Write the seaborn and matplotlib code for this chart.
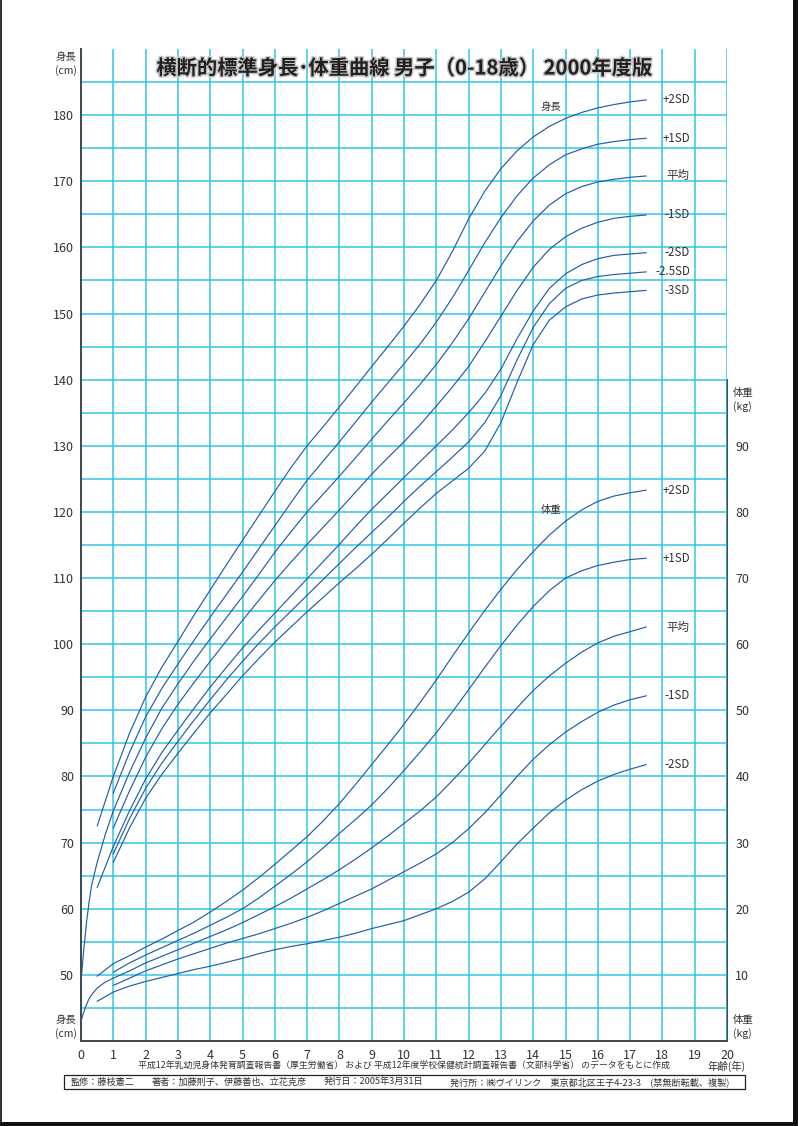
import numpy as np
import pandas as pd
import matplotlib
matplotlib.use("Agg")
import matplotlib.pyplot as plt
import matplotlib.patheffects as pe
from matplotlib.patches import Rectangle
import seaborn as sns

# ---------------- data ----------------
AGES_HALF = [0.5, 1.0, 1.5, 2.0, 2.5, 3.0, 3.5, 4.0, 4.5, 5.0, 5.5, 6.0, 6.5, 7.0, 7.5,
             8.0, 8.5, 9.0, 9.5, 10.0, 10.5, 11.0, 11.5, 12.0, 12.5, 13.0, 13.5, 14.0,
             14.5, 15.0, 15.5, 16.0, 16.5, 17.0, 17.5]
AGES_FROM1 = [1.0, 1.5, 2.0, 2.5, 3.0, 3.5, 4.0, 4.5, 5.0, 5.5, 6.0, 6.5, 7.0, 7.5,
              8.0, 8.5, 9.0, 9.5, 10.0, 10.5, 11.0, 11.5, 12.0, 12.5, 13.0, 13.5, 14.0,
              14.5, 15.0, 15.5, 16.0, 16.5, 17.0, 17.5]
AGES_INFANT = [0.0, 0.08, 0.17, 0.25, 0.33, 0.5, 0.75, 1.0, 1.5, 2.0, 2.5, 3.0, 3.5, 4.0,
               4.5, 5.0, 5.5, 6.0, 6.5, 7.0, 7.5, 8.0, 8.5, 9.0, 9.5, 10.0, 10.5, 11.0,
               11.5, 12.0, 12.5, 13.0, 13.5, 14.0, 14.5, 15.0, 15.5, 16.0, 16.5, 17.0, 17.5]

# height (cm)
H_P2 = [72.5, 80.0, 86.5, 92.0, 96.5, 100.4, 104.4, 108.2, 112.0, 115.7, 119.4, 123.1,
        126.7, 130.0, 132.9, 135.9, 138.9, 142.0, 145.0, 148.1, 151.4, 155.0, 159.4,
        164.3, 168.5, 171.9, 174.6, 176.7, 178.3, 179.5, 180.4, 181.1, 181.6, 182.0, 182.3]
H_P1 = [77.5, 83.6, 89.0, 93.3, 97.0, 100.6, 104.1, 107.5, 110.9, 114.4, 117.9, 121.4,
        124.8, 127.7, 130.6, 133.6, 136.6, 139.5, 142.4, 145.4, 148.7, 152.4, 156.5,
        160.7, 164.5, 167.8, 170.5, 172.5, 174.0, 174.9, 175.6, 176.0, 176.3, 176.5]
H_MEAN = [49.0, 53.5, 57.9, 61.0, 63.6, 67.0, 71.2,
          74.8, 80.6, 85.8, 90.3, 94.0, 97.5, 100.8, 104.0, 107.2, 110.5, 113.9, 117.0,
          120.0, 122.7, 125.4, 128.2, 131.0, 133.8, 136.5, 139.3, 142.3, 145.6, 149.2,
          153.2, 157.2, 160.9, 164.0, 166.4, 168.1, 169.2, 169.9, 170.3, 170.6, 170.8]
H_M1 = [72.2, 77.8, 82.9, 87.2, 90.9, 94.2, 97.4, 100.5, 103.6, 106.6, 109.6, 112.4,
        115.1, 117.7, 120.3, 123.0, 125.7, 128.2, 130.6, 133.2, 136.0, 138.9, 142.0,
        145.7, 149.6, 153.5, 157.0, 159.7, 161.6, 162.9, 163.8, 164.4, 164.7, 164.9]
H_M2 = [63.2, 69.4, 74.8, 79.6, 83.6, 87.0, 90.3, 93.5, 96.5, 99.4, 102.1, 104.7,
        107.3, 109.9, 112.5, 115.1, 117.8, 120.4, 122.8, 125.2, 127.6, 130.0, 132.4,
        135.0, 137.9, 141.6, 146.2, 150.4, 153.8, 156.0, 157.4, 158.3, 158.8, 159.0, 159.2]
H_M25 = [68.3, 73.6, 78.2, 82.0, 85.3, 88.5, 91.6, 94.6, 97.4, 100.1, 102.6, 105.0,
         107.4, 109.8, 112.2, 114.6, 116.9, 119.2, 121.6, 123.9, 126.1, 128.3, 130.6,
         133.5, 137.6, 143.0, 147.9, 151.5, 153.8, 155.0, 155.6, 155.9, 156.1, 156.3]
H_M3 = [67.0, 72.2, 76.7, 80.3, 83.5, 86.6, 89.6, 92.4, 95.2, 97.8, 100.3, 102.6,
        104.9, 107.1, 109.3, 111.4, 113.6, 115.9, 118.3, 120.6, 122.8, 124.7, 126.6,
        129.2, 133.5, 139.6, 145.3, 149.0, 151.0, 152.2, 152.8, 153.1, 153.3, 153.5]

# weight (kg)
W_P2 = [9.8, 11.7, 12.9, 14.2, 15.4, 16.7, 18.0, 19.5, 21.1, 22.8, 24.7, 26.7, 28.8,
        30.9, 33.3, 35.9, 38.8, 41.8, 44.8, 47.9, 51.2, 54.6, 58.2, 61.7, 65.1, 68.3,
        71.3, 74.0, 76.5, 78.6, 80.3, 81.6, 82.4, 82.9, 83.3]
W_P1 = [10.4, 11.8, 13.0, 14.1, 15.2, 16.3, 17.5, 18.7, 20.0, 21.6, 23.4, 25.2, 27.1,
        29.2, 31.4, 33.5, 35.7, 38.2, 40.9, 43.7, 46.6, 49.8, 53.1, 56.5, 59.8, 62.9,
        65.7, 68.1, 70.0, 71.1, 71.9, 72.4, 72.8, 73.0]
W_MEAN = [3.0, 4.3, 5.5, 6.4, 7.0, 8.0, 8.9,
          9.5, 10.6, 11.8, 12.8, 13.8, 14.8, 15.8, 16.8, 17.9, 19.1, 20.3, 21.6, 23.0,
          24.4, 25.9, 27.5, 29.2, 31.0, 32.9, 34.8, 36.9, 39.4, 42.0, 44.8, 47.6, 50.4,
          53.0, 55.2, 57.1, 58.8, 60.2, 61.2, 61.9, 62.6]
W_M1 = [8.4, 9.5, 10.6, 11.5, 12.4, 13.2, 14.0, 14.8, 15.5, 16.2, 17.0, 17.8, 18.7,
        19.7, 20.8, 21.9, 23.0, 24.3, 25.6, 26.9, 28.3, 30.0, 32.1, 34.5, 37.2, 40.0,
        42.6, 44.8, 46.7, 48.3, 49.7, 50.8, 51.6, 52.2]
W_M2 = [6.0, 7.4, 8.3, 9.0, 9.6, 10.2, 10.8, 11.3, 11.9, 12.5, 13.2, 13.8, 14.3, 14.7,
        15.2, 15.7, 16.3, 17.0, 17.6, 18.2, 19.1, 20.0, 21.1, 22.5, 24.5, 27.1, 29.8,
        32.2, 34.5, 36.4, 38.0, 39.3, 40.3, 41.1, 41.8]

H_LABELS = ["+2SD", "+1SD", "平均", "-1SD", "-2SD", "-2.5SD", "-3SD"]
W_LABELS = ["+2SD", "+1SD", "平均", "-1SD", "-2SD"]
X_TICKS = list(range(0, 21))
H_TICKS = list(range(50, 181, 10))
W_TICKS = list(range(10, 91, 10))

TITLE = "横断的標準身長･体重曲線 男子（0-18歳） 2000年度版"
SOURCE = ("平成12年乳幼児身体発育調査報告書（厚生労働省） および 平成12年度学校保健統計調査報告書"
          "（文部科学省） のデータをもとに作成")
FOOT = ["監修：藤枝憲二", "著者：加藤則子、伊藤善也、立花克彦", "発行日：2005年3月31日",
        "発行所：㈱ヴイリンク　東京都北区王子4-23-3　(禁無断転載、複製)"]

# weight is drawn on the same axes shifted by 40 (10 kg <-> 50 cm)
W_OFFSET = 40

# ---------------- style ----------------
sns.set_theme(style="white")
plt.rcParams['font.family'] = ['Noto Sans CJK JP', 'DejaVu Sans']
GRID = "#2cc2e4"
LINE = "#1f5ea8"
TXT = "#333333"
SPINE = "#3b4a50"

W, H = 798, 1126
fig = plt.figure(figsize=(W / 100, H / 100), dpi=100)
fx = lambda px: px / W
fy = lambda py: 1 - py / H

ax = fig.add_axes([fx(81), fy(1041), (727 - 81) / W, (1041 - 49) / H])
ax.set_xlim(0, 20)
ax.set_ylim(40, 190)

# build long table
rows = []
def add(name, ages, vals, offset=0):
    for a, v in zip(ages, vals):
        rows.append({"curve": name, "age": a, "value": v + offset})

h_series = [H_P2, H_P1, H_MEAN, H_M1, H_M2, H_M25, H_M3]
h_ages = [AGES_HALF, AGES_FROM1, AGES_INFANT, AGES_FROM1, AGES_HALF, AGES_FROM1, AGES_FROM1]
w_series = [W_P2, W_P1, W_MEAN, W_M1, W_M2]
w_ages = [AGES_HALF, AGES_FROM1, AGES_INFANT, AGES_FROM1, AGES_HALF]
for lab, a, v in zip(H_LABELS, h_ages, h_series):
    add("H" + lab, a, v)
for lab, a, v in zip(W_LABELS, w_ages, w_series):
    add("W" + lab, a, v, W_OFFSET)
df = pd.DataFrame(rows)

sns.lineplot(data=df, x="age", y="value", units="curve", estimator=None,
             color=LINE, lw=0.85, ax=ax, legend=False, zorder=3)

# grid
ax.set_xticks(X_TICKS)
ax.set_yticks(H_TICKS)
ax.set_yticks(np.arange(45, 190.01, 10), minor=True)
ax.grid(False)
ax.grid(which="both", color=GRID, lw=1.1, alpha=0.95)
ax.set_axisbelow(True)
ax.tick_params(which="both", length=0)
ax.tick_params(axis="x", pad=6, labelsize=9, labelcolor=TXT)
ax.tick_params(axis="y", pad=5, labelsize=9, labelcolor=TXT)
ax.set_xlabel("")
ax.set_ylabel("")

for s in ["top", "right"]:
    ax.spines[s].set_visible(False)
for s in ["left", "bottom"]:
    ax.spines[s].set_visible(True)
    ax.spines[s].set_color(SPINE)
    ax.spines[s].set_linewidth(1.4)
    ax.spines[s].set_zorder(5)

# weight axis on the right
sec = ax.secondary_yaxis("right", functions=(lambda h: h - W_OFFSET, lambda w: w + W_OFFSET))
sec.set_yticks(W_TICKS)
sec.tick_params(length=0, pad=6, labelsize=9, labelcolor=TXT)
sec.spines["right"].set_bounds(0, 100)
sec.spines["right"].set_color(SPINE)
sec.spines["right"].set_linewidth(1.4)

# curve labels
lab_x = 18.85
for lab, v in zip(H_LABELS, h_series):
    ax.text(lab_x, v[-1], lab, ha="right", va="center", fontsize=8.3, color=TXT, zorder=6)
for lab, v in zip(W_LABELS, w_series):
    ax.text(lab_x, v[-1] + W_OFFSET, lab, ha="right", va="center", fontsize=8.3, color=TXT, zorder=6)
ax.text(14.55, 181.2, "身長", ha="center", va="center", fontsize=7.5, color=TXT)
ax.text(14.55, 120.3, "体重", ha="center", va="center", fontsize=7.5, color=TXT)

# title
fig.text(fx(404), fy(68), TITLE, ha="center", va="center", fontsize=14.6, fontweight="bold",
         color="#231f20",
         path_effects=[pe.withStroke(linewidth=2.2, foreground="#c8c8c8")])

# axis unit labels
fig.text(fx(66), fy(64), "身長\n(cm)", ha="center", va="center", fontsize=7.5,
         color=TXT, linespacing=1.3)
fig.text(fx(66), fy(1027), "身長\n(cm)", ha="center", va="center", fontsize=7.5,
         color=TXT, linespacing=1.3)
fig.text(fx(733), fy(400), "体重\n(kg)", ha="left", va="center", fontsize=7.5,
         color=TXT, linespacing=1.3)
fig.text(fx(733), fy(1027), "体重\n(kg)", ha="left", va="center", fontsize=7.5,
         color=TXT, linespacing=1.3)
fig.text(fx(727), fy(1066), "年齢(年)", ha="center", va="center", fontsize=7.5, color=TXT)

# source & footer
fig.text(fx(404), fy(1066), SOURCE, ha="center", va="center", fontsize=6.4, color=TXT)
fig.patches.append(Rectangle((fx(64), fy(1089)), fx(745) - fx(64), fy(1075) - fy(1089),
                             transform=fig.transFigure, fill=False, ec="#222222", lw=0.9))
for xp, t in zip([71, 152, 324, 450], FOOT):
    fig.text(fx(xp), fy(1082), t, ha="left", va="center", fontsize=6.6, color=TXT)

# page frame (shadow)
fig.patches.append(Rectangle((0, 0), fx(2), 1, transform=fig.transFigure, color="#333333", lw=0))
fig.patches.append(Rectangle((fx(793), 0), 1 - fx(793), 1, transform=fig.transFigure,
                             color="#111111", lw=0))
fig.patches.append(Rectangle((0, 0), 1, (H - 1122) / H,
                             transform=fig.transFigure, color="#111111", lw=0))

fig.savefig("out.png", dpi=100)
